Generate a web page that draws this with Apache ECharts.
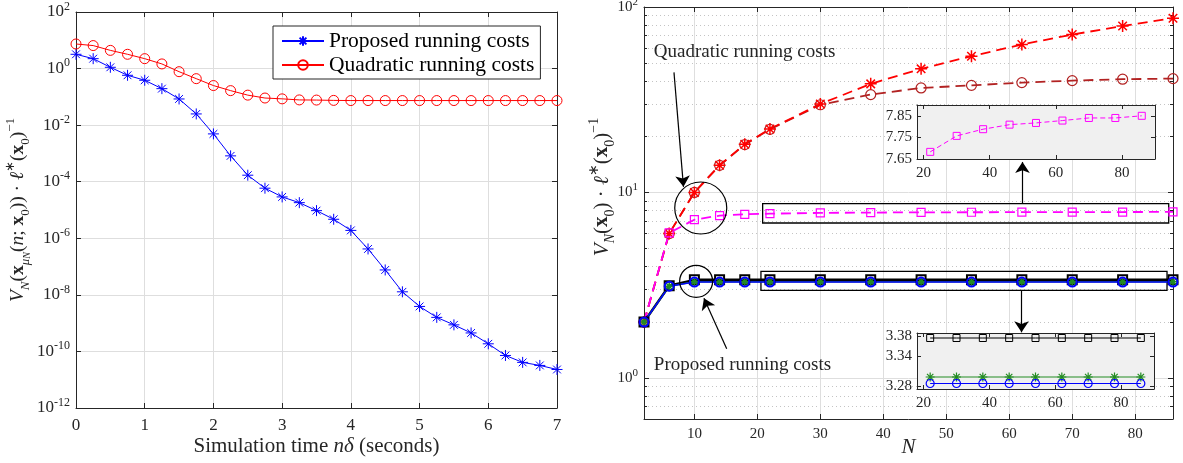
<!DOCTYPE html>
<html><head><meta charset="utf-8">
<script src="https://cdn.jsdelivr.net/npm/echarts@6/dist/echarts.min.js"></script>
<style>html,body{margin:0;padding:0;background:#fff}#c{width:1183px;height:463px}</style>
</head><body><div id="c"></div><script>
// ---------------- data ----------------
const timeSteps = [0,0.25,0.5,0.75,1,1.25,1.5,1.75,2,2.25,2.5,2.75,3,3.25,3.5,3.75,4,4.25,4.5,4.75,5,5.25,5.5,5.75,6,6.25,6.5,6.75,7];
const proposedCost = [3.2,2.24,1.11,0.579,0.386,0.195,0.0843,0.0249,0.0049,8.2e-4,1.7e-4,5.9e-5,2.9e-5,1.82e-5,9.5e-6,4.7e-6,1.9e-6,4.2e-7,7.6e-8,1.28e-8,3.9e-9,1.6e-9,8.7e-10,4.5e-10,1.86e-10,7.2e-11,4.1e-11,3.2e-11,2.3e-11];
const quadraticCost = [7.4,6.5,4.4,3.2,2.24,1.46,0.776,0.44,0.251,0.166,0.115,0.091,0.085,0.078,0.077,0.075,0.074,0.074,0.074,0.074,0.074,0.074,0.074,0.074,0.074,0.074,0.074,0.074,0.074];
const leftXTicks = [0,1,2,3,4,5,6,7];
const leftYTicks = [1e-12,1e-10,1e-8,1e-6,1e-4,1e-2,1,100];

const horizonN = [2,6,10,14,18,22,30,38,46,54,62,70,78,86];
const quadStarCost = [2.0,6.0,10.0,14.0,18.2,22.0,30.0,38.5,46.4,54.3,62.8,71.0,79.0,87.0];
const quadCircleCost = [2.0,6.0,10.0,14.0,18.1,21.9,29.7,33.7,36.6,37.8,39.1,40.1,40.8,41.1];
const magentaCost = [2.0,6.05,7.13,7.5,7.62,7.683,7.757,7.788,7.809,7.817,7.828,7.840,7.840,7.850];
const blackCost = [2.0,3.14,3.377,3.377,3.377,3.377,3.377,3.377,3.377,3.377,3.377,3.377,3.377,3.377];
const greenCost = [2.0,3.12,3.299,3.299,3.299,3.299,3.299,3.299,3.299,3.299,3.299,3.299,3.299,3.299];
const blueCost = [2.0,3.12,3.286,3.286,3.286,3.286,3.286,3.286,3.286,3.286,3.286,3.286,3.286,3.286];
const insetN = [22,30,38,46,54,62,70,78,86];
const insetMagenta = [7.683,7.757,7.788,7.809,7.817,7.828,7.840,7.840,7.850];
const insetBlack = [3.377,3.377,3.377,3.377,3.377,3.377,3.377,3.377,3.377];
const insetGreen = [3.299,3.299,3.299,3.299,3.299,3.299,3.299,3.299,3.299];
const insetBlue = [3.286,3.286,3.286,3.286,3.286,3.286,3.286,3.286,3.286];
const rightXTicks = [10,20,30,40,50,60,70,80];
const rightYTicks = [1,10,100];
const rightYMinor = [0.7,0.8,0.9,2,3,4,5,6,7,8,9,20,30,40,50,60,70,80,90];
const insetXTicks = [20,40,60,80];
const inset1YTicks = [7.65,7.75,7.85];
const inset2YTicks = [3.28,3.34,3.38];
const legendNames = ['Proposed running costs','Quadratic running costs'];
const annotationTexts = ['Quadratic running costs','Proposed running costs'];

// ---------------- style ----------------
const F = 'Liberation Serif';
const AX = '#262626';
const GRIDC = '#dedede';
const STAR = 'path://M0,-10L0,10M-10,0L10,0M-7.07,-7.07L7.07,7.07M-7.07,7.07L7.07,-7.07';
const zip = (xs, ys) => xs.map((x, i) => [x, ys[i]]);

function tickRich(sz) {
  return {
    t: {fontFamily: F, fontSize: sz, color: AX, lineHeight: sz + 6},
    e: {fontFamily: F, fontSize: Math.round(sz * 0.7), color: AX, lineHeight: Math.round(sz * 0.9), verticalAlign: 'top'}
  };
}
function nameRich(sz) {
  const s = Math.round(sz * 0.68);
  const base = {fontFamily: F, fontSize: sz, color: AX, lineHeight: Math.round(sz * 1.45)};
  return {
    n: base,
    i: Object.assign({}, base, {fontStyle: 'italic'}),
    b: Object.assign({}, base, {fontWeight: 'bold'}),
    s: {fontFamily: F, fontSize: s, color: AX, lineHeight: s, verticalAlign: 'bottom'},
    si: {fontFamily: F, fontSize: s, color: AX, lineHeight: s, verticalAlign: 'bottom', fontStyle: 'italic'},
    ss: {fontFamily: F, fontSize: Math.round(sz * 0.5), color: AX, lineHeight: Math.round(sz * 0.45), verticalAlign: 'bottom', fontStyle: 'italic'},
    p: {fontFamily: F, fontSize: s, color: AX, lineHeight: Math.round(s * 1.25), verticalAlign: 'top'}
  };
}
const logFmt = v => '{t|10}{e|' + Math.round(Math.log10(v)) + '}';

function ax(o) {
  const a = {
    type: o.type || 'value',
    gridIndex: o.grid,
    position: o.pos,
    min: o.min, max: o.max,
    z: o.z == null ? 2 : o.z,
    silent: true,
    axisLine: {show: o.line !== false, onZero: false, lineStyle: {color: AX, width: 1}},
    axisTick: {show: !!o.tickLen, inside: true, length: o.tickLen || 0, customValues: o.ticks, lineStyle: {color: AX, width: 1}},
    axisLabel: {show: !!o.labels, customValues: o.ticks, margin: o.margin || 8, hideOverlap: false,
      fontFamily: F, fontSize: o.fs || 15, color: AX},
    splitLine: {show: !!o.split, lineStyle: o.split || {}},
    minorTick: {show: false}, minorSplitLine: {show: false}
  };
  if (a.type === 'log') a.logBase = 10;
  if (o.fmt) a.axisLabel.formatter = o.fmt;
  if (o.rich) a.axisLabel.rich = o.rich;
  if (o.name) {
    a.name = o.name; a.nameLocation = 'middle'; a.nameGap = o.nameGap; a.nameRotate = o.nameRotate || 0;
    a.nameMoveOverlap = false;
    a.nameTextStyle = {rich: nameRich(o.nameSize || 21), padding: o.namePad || 0};
  }
  return a;
}

const leftYName = '{i|V}{si|N}{n|(}{b|x}{si|μ}{ss|N}{n|(}{i|n}{n|; }{b|x}{s|0}{n|)) · }{i|ℓ}{p|∗}{n|(}{b|x}{s|0}{n|)}{p|−1}';
const rightYName = '{i|V}{si|N}{n|(}{b|x}{s|0}{n|) · }{i|ℓ}{p|∗}{n|(}{b|x}{s|0}{n|)}{p|−1}';

const xAxes = [
  // left plot
  ax({grid: 0, pos: 'bottom', min: 0, max: 7, ticks: leftXTicks, tickLen: 5, labels: true, fs: 17, margin: 9,
      name: '{n|Simulation time }{i|nδ}{n| (seconds)}', nameGap: 23}),
  ax({grid: 0, pos: 'top', min: 0, max: 7, ticks: leftXTicks, tickLen: 5}),
  ax({grid: 0, pos: 'bottom', min: 0, max: 7, ticks: leftXTicks, line: false, split: {color: GRIDC, width: 1}, z: 1}),
  // right plot
  ax({grid: 1, pos: 'bottom', min: 2, max: 86, ticks: rightXTicks, tickLen: 5, labels: true, fs: 15, margin: 8,
      name: '{i|N}', nameGap: 13}),
  ax({grid: 1, pos: 'top', min: 2, max: 86, ticks: rightXTicks, tickLen: 5}),
  ax({grid: 1, pos: 'bottom', min: 2, max: 86, ticks: rightXTicks, line: false, split: {color: GRIDC, width: 1}, z: 1}),
  // inset 1
  ax({grid: 2, pos: 'bottom', min: 18, max: 90, ticks: insetXTicks, tickLen: 4, labels: true, fs: 15, margin: 7, z: 5}),
  ax({grid: 2, pos: 'top', min: 18, max: 90, ticks: insetXTicks, tickLen: 4, z: 5}),
  // inset 2
  ax({grid: 3, pos: 'bottom', min: 18, max: 90, ticks: insetXTicks, tickLen: 4, labels: true, fs: 15, margin: 7, z: 5}),
  ax({grid: 3, pos: 'top', min: 18, max: 90, ticks: insetXTicks, tickLen: 4, z: 5})
];
const yAxes = [
  // left plot
  ax({grid: 0, pos: 'left', type: 'log', min: 1e-12, max: 100, ticks: leftYTicks, tickLen: 5, labels: true, fmt: logFmt, rich: tickRich(17), margin: 6,
      name: leftYName, nameRotate: 90, nameGap: 44, nameSize: 19.5, namePad: 0}),
  ax({grid: 0, pos: 'right', type: 'log', min: 1e-12, max: 100, ticks: leftYTicks, tickLen: 5}),
  ax({grid: 0, pos: 'left', type: 'log', min: 1e-12, max: 100, ticks: leftYTicks, line: false, split: {color: GRIDC, width: 1}, z: 1}),
  // right plot
  ax({grid: 1, pos: 'left', type: 'log', min: 0.6, max: 100, ticks: rightYTicks, tickLen: 5, labels: true, fmt: logFmt, rich: tickRich(15), margin: 6,
      name: rightYName, nameRotate: 90, nameGap: 27, nameSize: 21, namePad: [0, 0, 0, 52]}),
  ax({grid: 1, pos: 'right', type: 'log', min: 0.6, max: 100, ticks: rightYTicks, tickLen: 5}),
  ax({grid: 1, pos: 'left', type: 'log', min: 0.6, max: 100, ticks: rightYTicks, line: false, split: {color: GRIDC, width: 1}, z: 1}),
  ax({grid: 1, pos: 'left', type: 'log', min: 0.6, max: 100, ticks: rightYMinor, tickLen: 3, line: false, split: {color: '#c4c4c4', width: 1, type: [1, 3]}, z: 1}),
  ax({grid: 1, pos: 'right', type: 'log', min: 0.6, max: 100, ticks: rightYMinor, tickLen: 3, line: false}),
  // inset 1
  ax({grid: 2, pos: 'left', min: 7.65, max: 7.9, ticks: inset1YTicks, tickLen: 4, labels: true, fs: 15, margin: 5, fmt: v => v.toFixed(2), z: 5}),
  ax({grid: 2, pos: 'right', min: 7.65, max: 7.9, ticks: inset1YTicks, tickLen: 4, z: 5}),
  // inset 2
  ax({grid: 3, pos: 'left', min: 3.275, max: 3.387, ticks: inset2YTicks, tickLen: 4, labels: true, fs: 15, margin: 5, fmt: v => v.toFixed(2), z: 5}),
  ax({grid: 3, pos: 'right', min: 3.275, max: 3.387, ticks: inset2YTicks, tickLen: 4, z: 5})
];

function ser(o) {
  return {
    type: 'line', name: o.name, xAxisIndex: o.x, yAxisIndex: o.y, data: o.data, z: o.z || 3,
    symbol: o.symbol, symbolSize: o.size, showAllSymbol: true, silent: true,
    lineStyle: {color: o.color, width: o.width || 1, type: o.dash || 'solid'},
    itemStyle: {color: o.fill || 'transparent', borderColor: o.color, borderWidth: o.bw || 1},
    emphasis: {disabled: true}
  };
}

const annot = {
  type: 'line', name: 'annot', xAxisIndex: 3, yAxisIndex: 3, data: [], z: 4, silent: true,
  markLine: {
    silent: true, animation: false, symbol: ['none', 'arrow'], symbolSize: 11,
    lineStyle: {color: '#000', width: 1.2, type: 'solid'}, label: {show: false},
    data: [
      [{coord: [6.76, 44.4]}, {coord: [8.27, 10.72]}],
      [{coord: [62.1, 8.71]}, {coord: [62.1, 14.6]}],
      [{coord: [15.13, 1.437]}, {coord: [11.52, 2.685]}],
      [{coord: [61.95, 2.965]}, {coord: [61.95, 1.76]}]
    ]
  },
  markArea: {
    silent: true, animation: false, label: {show: false},
    itemStyle: {color: 'transparent', borderColor: '#000', borderWidth: 1.3},
    data: [
      [{coord: [20.84, 8.71]}, {coord: [85.32, 6.84]}],
      [{coord: [20.57, 3.754]}, {coord: [85.05, 2.965]}]
    ]
  },
  markPoint: {
    silent: true, animation: false,
    data: [
      {coord: [11.01, 8.24], symbol: 'circle', symbolSize: 52, itemStyle: {color: 'transparent', borderColor: '#000', borderWidth: 1.2}, label: {show: false}},
      {coord: [10.28, 3.316], symbol: 'circle', symbolSize: [33, 32], itemStyle: {color: 'transparent', borderColor: '#000', borderWidth: 1.2}, label: {show: false}},
      {coord: [3.48, 57.0], symbol: 'circle', symbolSize: 1, itemStyle: {color: 'transparent'},
        label: {show: true, position: 'right', distance: 0, formatter: annotationTexts[0], fontFamily: F, fontSize: 19, color: AX}},
      {coord: [3.48, 1.168], symbol: 'circle', symbolSize: 1, itemStyle: {color: 'transparent'},
        label: {show: true, position: 'right', distance: 0, formatter: annotationTexts[1], fontFamily: F, fontSize: 19, color: AX}}
    ]
  }
};

const series = [
  ser({name: legendNames[0], x: 0, y: 0, data: zip(timeSteps, proposedCost), symbol: STAR, size: 11, color: '#0000ff', fill: '#0000ff', width: 1, bw: 1}),
  ser({name: legendNames[1], x: 0, y: 0, data: zip(timeSteps, quadraticCost), symbol: 'circle', size: 10, color: '#ff0000', width: 1, bw: 1}),
  // right main
  ser({name: 'quadCircle', x: 3, y: 3, data: zip(horizonN, quadCircleCost), symbol: 'circle', size: 10, color: '#b22222', width: 1.8, dash: [10, 6], bw: 1.2}),
  ser({name: 'quadStar', x: 3, y: 3, data: zip(horizonN, quadStarCost), symbol: STAR, size: 12, color: '#ff0000', fill: '#ff0000', width: 1.8, dash: [10, 6], bw: 1.5}),
  ser({name: 'magenta', x: 3, y: 3, data: zip(horizonN, magentaCost), symbol: 'rect', size: 8, color: '#ff00ff', width: 1.8, dash: [10, 6], bw: 1.2}),
  ser({name: 'black', x: 3, y: 3, data: zip(horizonN, blackCost), symbol: 'rect', size: 9, color: '#000000', width: 2.5, bw: 2}),
  ser({name: 'green', x: 3, y: 3, data: zip(horizonN, greenCost), symbol: STAR, size: 9, color: '#228b22', fill: '#228b22', width: 1.5, bw: 1.5}),
  ser({name: 'blue', x: 3, y: 3, data: zip(horizonN, blueCost), symbol: 'circle', size: 9, color: '#0000ff', width: 1.5, bw: 2}),
  // insets
  ser({name: 'inMag', x: 6, y: 8, data: zip(insetN, insetMagenta), symbol: 'rect', size: 7, color: '#ff00ff', width: 1, dash: [5, 3], bw: 1, z: 6}),
  ser({name: 'inBlack', x: 8, y: 10, data: zip(insetN, insetBlack), symbol: 'rect', size: 7, color: '#000000', width: 1, bw: 1, z: 6}),
  ser({name: 'inGreen', x: 8, y: 10, data: zip(insetN, insetGreen), symbol: STAR, size: 9, color: '#228b22', fill: '#228b22', width: 1.2, bw: 1.2, z: 6}),
  ser({name: 'inBlue', x: 8, y: 10, data: zip(insetN, insetBlue), symbol: 'circle', size: 8, color: '#0000ff', width: 1.2, bw: 1.2, z: 6}),
  annot
];

const chart = echarts.init(document.getElementById('c'), null, {renderer: 'canvas'});
chart.setOption({
  animation: false,
  backgroundColor: '#ffffff',
  grid: [
    {left: 76, top: 12, width: 481, height: 396, outerBoundsMode: 'none'},
    {left: 644, top: 7, width: 529, height: 412, outerBoundsMode: 'none'},
    {left: 917, top: 105, width: 238, height: 54, show: true, backgroundColor: '#f0f0f0', borderWidth: 0, z: 4, outerBoundsMode: 'none'},
    {left: 917, top: 333, width: 237, height: 56, show: true, backgroundColor: '#f0f0f0', borderWidth: 0, z: 4, outerBoundsMode: 'none'}
  ],
  legend: {
    data: legendNames, orient: 'vertical', left: 273, top: 26, padding: [4, 6, 3, 8], itemGap: 2,
    itemWidth: 42, itemHeight: 12, backgroundColor: '#fff', borderColor: AX, borderWidth: 1, borderRadius: 0,
    textStyle: {fontFamily: F, fontSize: 21.5, color: '#000'}, selectedMode: false
  },
  xAxis: xAxes,
  yAxis: yAxes,
  series: series
});
</script></body></html>
